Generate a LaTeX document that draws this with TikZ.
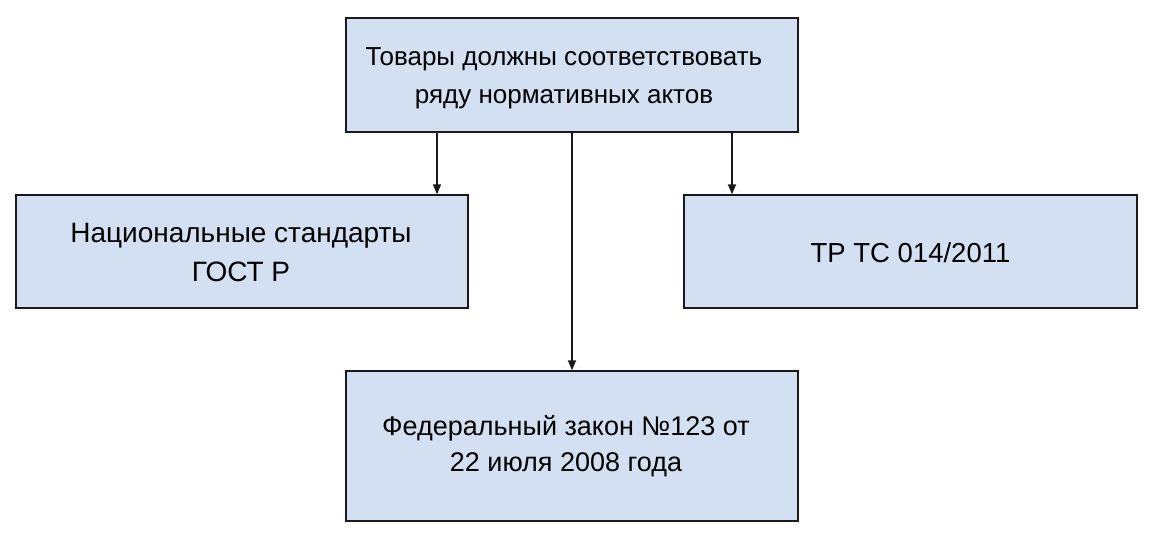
\documentclass[tikz,border=0pt]{standalone}
\usepackage{fontspec}
\setmainfont{Liberation Sans}
\usetikzlibrary{arrows.meta}
\definecolor{boxfill}{HTML}{D2E0F2}
\definecolor{boxline}{HTML}{1A1A1A}
\begin{document}
\begin{tikzpicture}[x=1pt,y=-1pt,
  box/.style={draw=boxline,line width=1.3pt,fill=boxfill,rectangle,inner sep=0pt,
    minimum width=452pt},
  txt/.style={inner sep=0pt,align=center,text=black},
  arr/.style={draw=boxline,line width=1.3pt,-{Triangle[length=10pt,width=8pt]}}]
\useasboundingbox (0,0) rectangle (1156,546);
\node[box,minimum height=114pt] (top) at (572,75) {};
\node[box,minimum height=113pt] (left) at (242,251.5) {};
\node[box,minimum height=113pt,minimum width=453pt] (right) at (910.5,251.5) {};
\node[box,minimum height=150pt] (bottom) at (572,446) {};
\node[txt,font=\fontsize{26}{38}\selectfont] (topt) at ([shift={(-8,3)}]top.center)
  {Товары должны соответствовать\\ряду нормативных актов};
\node[txt,font=\fontsize{28}{39}\selectfont] (leftt) at ([shift={(-1,1)}]left.center)
  {Национальные стандарты\\ГОСТ Р};
\node[txt,font=\fontsize{27.5}{38}\selectfont] (rightt) at ([shift={(0,1)}]right.center)
  {ТР ТС 014/2011};
\node[txt,font=\fontsize{27}{36}\selectfont] (bottomt) at ([shift={(-6,0)}]bottom.center)
  {Федеральный закон №123 от\\22 июля 2008 года};
\coordinate (c1) at (437,0);
\coordinate (c2) at (572,0);
\coordinate (c3) at (732,0);
\draw[arr] (top.south -| c1) -- (left.north -| c1);
\draw[arr] (top.south -| c2) -- (bottom.north -| c2);
\draw[arr] (top.south -| c3) -- (right.north -| c3);
\end{tikzpicture}
\end{document}
